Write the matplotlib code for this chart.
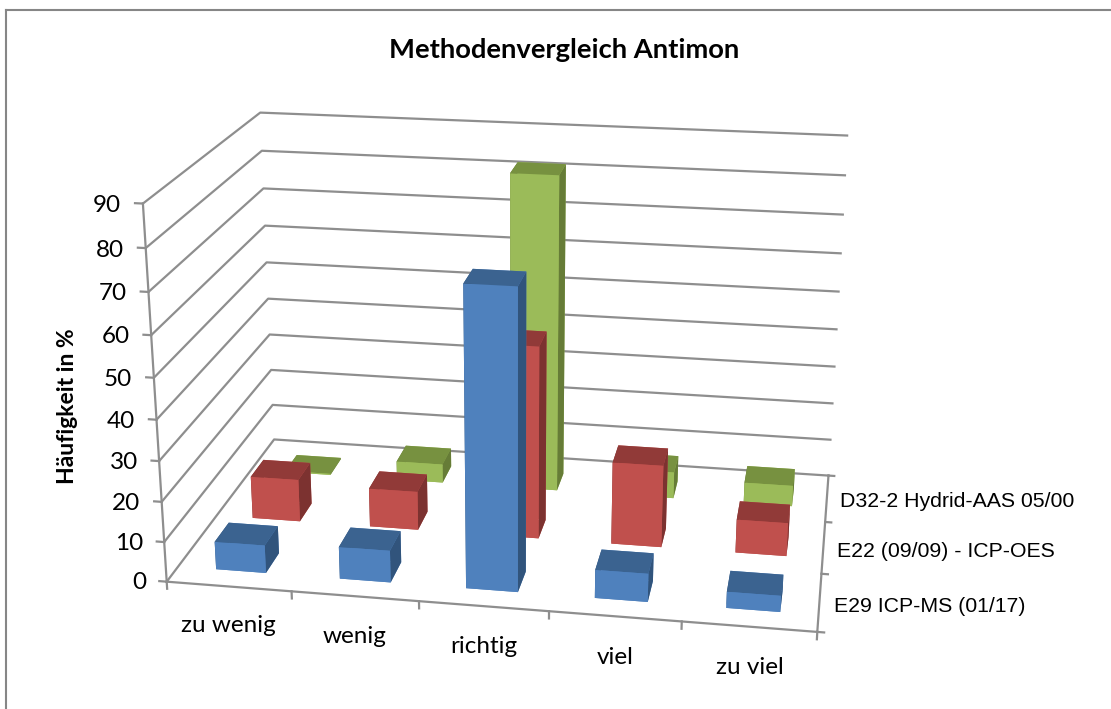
import matplotlib
matplotlib.use('Agg')
import matplotlib.pyplot as plt
from matplotlib.lines import Line2D
from mpl_toolkits.mplot3d import proj3d

categories = ['zu wenig', 'wenig', 'richtig', 'viel', 'zu viel']
series_names = ['E29 ICP-MS (01/17)', 'E22 (09/09) - ICP-OES', 'D32-2 Hydrid-AAS 05/00']
e29_values = [7, 8, 73, 7, 4]
e22_values = [11, 10, 49, 21, 8.5]
d32_values = [0.3, 5, 82.5, 7, 5.5]
value_ticks = [0, 10, 20, 30, 40, 50, 60, 70, 80, 90]

# front, top, side colours per series
blue = ['#4F81BD', '#3B6390', '#31547C']
red = ['#C0504D', '#913A38', '#7C3230']
green = ['#9BBB59', '#779140', '#667C37']
grid_col = '#8E8E8E'

W, H = 1111, 709
fig = plt.figure(figsize=(W / 100, H / 100), dpi=100)

# centre of the 3d box in pixels, size of the square axes
cx, cy, A = 517, 352, 798
ax = fig.add_axes([(cx - 0.5135 * A) / W, (H - cy - 0.5135 * A) / H, A / W, A / H],
                  projection='3d', computed_zorder=False)
ax.set_proj_type('persp', focal_length=0.476)
ax.view_init(elev=19.5, azim=-80.3)
ax.set_box_aspect((610, 365, 370))
ax.set_xlim(0, 5)
ax.set_ylim(0, 3)
ax.set_zlim(0, 90)
ax.set_xticks([])
ax.set_yticks([])
ax.set_zticks([])
ax.set_axis_off()
ax.patch.set_alpha(0)


def label3d(x, y, z, s, **kw):
    # project once and write a plain 2d text at that spot
    px, py, _ = proj3d.proj_transform(x, y, z, ax.get_proj())
    ax.text2D(px, py, s, transform=ax.transData, clip_on=False, va='center', **kw)


# back wall and side wall gridlines
for v in value_ticks:
    ax.plot([0, 0, 5], [0, 3, 3], [v, v, v], color=grid_col, lw=1.6, zorder=1)
ax.plot([0, 0], [0, 0], [0, 90], color=grid_col, lw=1.6, zorder=1)
ax.plot([0, 5, 5], [0, 0, 3], [0, 0, 0], color=grid_col, lw=1.6, zorder=1)

# ticks
for v in value_ticks:
    ax.plot([-0.06, 0], [0, 0], [v, v], color=grid_col, lw=1.6, zorder=1)
    label3d(-0.17, 0, v - 0.7, str(v), ha='right', fontsize=17.5, family='Lato')
for i in range(6):
    ax.plot([i, i], [0, 0], [0, -1.8], color=grid_col, lw=1.6, zorder=1)
for j in range(4):
    ax.plot([5, 5.05], [j, j], [0, 0], color=grid_col, lw=1.6, zorder=1)

# bars, back series first
all_series = [(e29_values, blue), (e22_values, red), (d32_values, green)]
for j in [2, 1, 0]:
    vals, cols = all_series[j]
    for i in range(5):
        face_colors = [cols[0], cols[1], cols[0], cols[0], cols[2], cols[2]]
        bars = ax.bar3d(i + 0.31, j + 0.28, 0, 0.405, 0.37, vals[i], color=face_colors,
                        shade=False, linewidth=0, edgecolor='none')
        bars.set_zorder(5 + (2 - j))

for i, name in enumerate(categories):
    label3d(i * 0.963 + 0.694, -0.64, 0, name, ha='center', fontsize=17.5, family='Lato')
for j, name in enumerate(series_names):
    label3d(5.11, j + 0.44, 0, name, ha='left', fontsize=15.3, family='Liberation Sans')

fig.text(564 / W, 1 - 50 / H, 'Methodenvergleich Antimon', ha='center', va='center',
         fontsize=19.7, fontweight='bold', family='Lato')
fig.text(68 / W, 1 - 406 / H, 'Häufigkeit in %', rotation=90, ha='center', va='center',
         fontsize=16.5, fontweight='bold', family='Lato')

# chart frame, only top and left visible
fig.add_artist(Line2D([5.5 / W, 1], [1 - 10 / H, 1 - 10 / H], color='#868686', lw=1.5))
fig.add_artist(Line2D([5.5 / W, 5.5 / W], [1 - 10 / H, 0], color='#868686', lw=1.5))

fig.savefig('out.png', dpi=100)
